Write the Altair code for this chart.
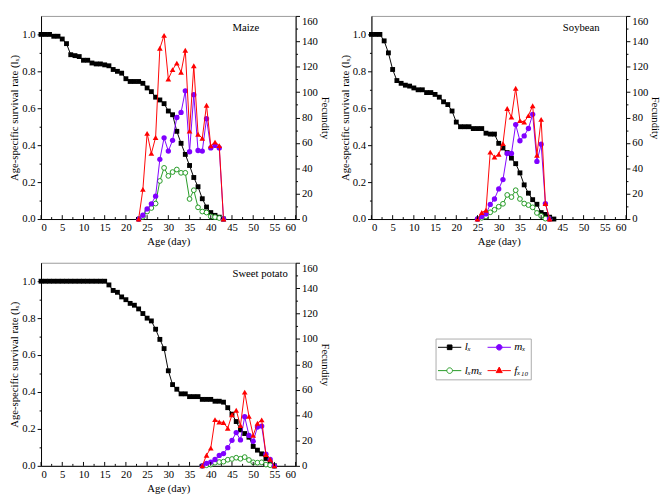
import altair as alt
import pandas as pd

FONT = "Liberation Serif"
BLACK = "#000000"
PURPLE = "#8000ff"
GREEN = "#229922"
RED = "#ff0000"

# ---------------- Maize ----------------
MAIZE_AGE = list(range(0, 44))
MAIZE_LX = [1.0, 1.0, 1.0, 0.99, 0.99, 0.975, 0.95, 0.89, 0.885, 0.88, 0.86,
            0.86, 0.845, 0.84, 0.84, 0.835, 0.83, 0.81, 0.80, 0.79, 0.76,
            0.745, 0.745, 0.745, 0.735, 0.71, 0.69, 0.66, 0.645, 0.625, 0.585,
            0.565, 0.475, 0.41, 0.35, 0.29, 0.225, 0.175, 0.11, 0.065, 0.035,
            0.02, 0.01, 0.0]
MAIZE_REP_AGE = list(range(23, 44))
MAIZE_MX = [0, 3, 8, 12, 18, 47, 64, 53.5, 62, 80, 84, 101, 53, 98, 54, 53.5,
            79, 56, 58, 56, 0]
MAIZE_LXMX = [0, 1.8, 5.9, 8.7, 12.2, 30, 40.3, 34, 37, 39, 36.4, 36.4, 15.8,
              22.7, 9.2, 5.9, 5.1, 2, 1.5, 0.8, 0]
MAIZE_FX10 = [0, 23.4, 67.5, 51.7, 64.2, 134.5, 144.7, 110.3, 117.7, 122.8,
              115.7, 133, 69.3, 120.8, 66.8, 63.7, 89.7, 57.6, 60.6, 57.8, 0]

# ---------------- Soybean ----------------
SOY_AGE = list(range(0, 44))
SOY_LX = [1.0, 1.0, 1.0, 0.965, 0.9, 0.81, 0.75, 0.735, 0.725, 0.72, 0.71,
          0.70, 0.70, 0.685, 0.685, 0.675, 0.66, 0.635, 0.62, 0.585, 0.525,
          0.50, 0.50, 0.50, 0.49, 0.49, 0.49, 0.465, 0.46, 0.46, 0.41, 0.385,
          0.36, 0.33, 0.30, 0.25, 0.185, 0.14, 0.105, 0.08, 0.035, 0.025,
          0.01, 0.0]
SOY_REP_AGE = list(range(25, 43))
SOY_MX = [0, 2, 4, 11.5, 15.8, 23.7, 31.1, 51.7, 51.7, 74.4, 61.7, 65.5, 71.3,
          82.5, 45.4, 58.9, 12.2, 0]
SOY_LXMX = [0, 1, 2, 5.3, 7.3, 9.7, 12, 19, 17.3, 22.7, 15.8, 12.2, 11, 9.2,
            4.8, 2.5, 0.3, 0]
SOY_FX10 = [0, 5.1, 6.9, 52.7, 48.9, 51, 59.4, 87.1, 80.3, 103, 77.5, 76.4,
            81.5, 89.2, 50.2, 78.5, 12.2, 0]

# ---------------- Sweet potato ----------------
SP_AGE = list(range(0, 56))
SP_LX = [1.0] * 16 + [0.98, 0.95, 0.94, 0.915, 0.9, 0.88, 0.87, 0.85, 0.825,
                      0.80, 0.785, 0.74, 0.685, 0.635, 0.515, 0.44, 0.415,
                      0.39, 0.39, 0.375, 0.375, 0.375, 0.36, 0.36, 0.36, 0.35,
                      0.35, 0.345, 0.315, 0.28, 0.24, 0.195, 0.175, 0.155,
                      0.105, 0.085, 0.065, 0.04, 0.015, 0.0]
SP_REP_AGE = list(range(38, 56))
SP_MX = [0, 2, 3, 5, 8.2, 9.7, 14.3, 20.1, 26.2, 20.4, 38.7, 24, 19.4, 30.6,
         31.3, 9.2, 5.1, 0]
SP_LXMX = [0, 0.5, 1, 2.5, 3, 3.3, 4.8, 5.4, 6.4, 5.6, 6.9, 4.6, 2.8, 2.5, 2.8,
           1, 0.5, 0]
SP_FX10 = [0, 8.4, 14, 36.4, 34.6, 34.1, 29.6, 40.3, 43.8, 31.8, 58.1, 39, 24,
           33.6, 36.2, 8.9, 5.1, 0]

# ---------------- Axes / legend ----------------
X_MAJOR = [0, 5, 10, 15, 20, 25, 30, 35, 40, 45, 50, 55, 60]
X_MINOR = [2.5, 7.5, 12.5, 17.5, 22.5, 27.5, 32.5, 37.5, 42.5, 47.5, 52.5, 57.5]
LX_TICKS = [0.0, 0.1, 0.2, 0.3, 0.4, 0.5, 0.6, 0.7, 0.8, 0.9, 1.0]
FEC_TICKS = [0, 10, 20, 30, 40, 50, 60, 70, 80, 90, 100, 110, 120, 130, 140,
             150, 160]
SERIES = ["l\u2093", "m\u2093", "l\u2093m\u2093", "f\u2093\u2081\u2080"]
SERIES_STROKE = [BLACK, PURPLE, GREEN, RED]
SERIES_FILL = [BLACK, PURPLE, "#ffffff", RED]
SERIES_SHAPE = [
    "M-1,0H-0.2M0.2,0H1M-0.2,-0.2H0.2V0.2H-0.2Z",
    "M-1,0H-0.24M0.24,0H1M0.24,0A0.24,0.24 0 1,1 -0.24,0A0.24,0.24 0 1,1 0.24,0Z",
    "M-1,0H-0.24M0.24,0H1M0.24,0A0.24,0.24 0 1,1 -0.24,0A0.24,0.24 0 1,1 0.24,0Z",
    "M-1,0H-0.26M0.26,0H1M0,-0.3L0.26,0.17H-0.26Z",
]

W, H = 262, 209
FS = 11

xenc = alt.X("age:Q", scale=alt.Scale(domain=[0, 60], nice=False, zero=False),
             axis=alt.Axis(values=X_MAJOR, title="Age (day)", ticks=False,
                           labelPadding=3, titlePadding=3, format="d"))

lx_axis = alt.Axis(
    orient="left", values=LX_TICKS, format=".1f",
    labelExpr="round(datum.value*10) % 2 == 0 ? datum.label : ''",
    tickSize={"condition": {"test": "round(datum.value*10) % 2 == 0", "value": 4}, "value": 2},
    title="Age-specific survival rate (l\u2093)", titlePadding=2, labelPadding=2)

fec_axis = alt.Axis(
    orient="right", values=FEC_TICKS, format="d",
    labelExpr="datum.value % 20 == 0 ? datum.label : ''",
    labelBaseline={"condition": {"test": "datum.value == 160", "value": "top"}, "value": "middle"},
    tickSize={"condition": {"test": "datum.value % 20 == 0", "value": 4}, "value": 2},
    title="Fecundity", titlePadding=2, labelPadding=2)


def rseries(df, field, color, pt):
    return alt.Chart(df).mark_line(color=color, strokeWidth=1, point=pt).encode(
        x=xenc,
        y=alt.Y(f"{field}:Q", scale=alt.Scale(domain=[0, 160], nice=False),
                axis=fec_axis))


def panel(name, ages, lx, rep_ages, mx, lxmx, fx, with_legend=False):
    d_lx = pd.DataFrame({"age": ages, "v": lx})
    d_rep = pd.DataFrame({"age": rep_ages, "mx": mx, "lxmx": lxmx, "fx": fx})

    lx_layer = alt.Chart(d_lx).mark_line(
        color=BLACK, strokeWidth=1,
        point=alt.OverlayMarkDef(shape="square", filled=True, color=BLACK, size=25)
    ).encode(x=xenc, y=alt.Y("v:Q", scale=alt.Scale(domain=[0, 1.1], nice=False),
                             axis=lx_axis))

    fec = alt.layer(
        rseries(d_rep, "lxmx", GREEN,
                alt.OverlayMarkDef(shape="circle", filled=True, fill="#ffffff",
                                   stroke=GREEN, strokeWidth=1, size=24)),
        rseries(d_rep, "mx", PURPLE,
                alt.OverlayMarkDef(shape="circle", filled=True, color=PURPLE, size=30)),
        rseries(d_rep, "fx", RED,
                alt.OverlayMarkDef(shape="triangle-up", filled=True, color=RED, size=34)),
    )

    tmaj = alt.Chart(pd.DataFrame({"age": X_MAJOR})).mark_rule(
        color=BLACK, strokeWidth=1).encode(x=xenc, y=alt.value(H), y2=alt.value(H - 4))
    tmin = alt.Chart(pd.DataFrame({"age": X_MINOR})).mark_rule(
        color=BLACK, strokeWidth=1).encode(x=xenc, y=alt.value(H), y2=alt.value(H - 2))

    label = alt.Chart(pd.DataFrame({"t": [name]})).mark_text(
        align="left", baseline="middle", font=FONT, fontSize=FS, color=BLACK
    ).encode(x=alt.value(round(W * 0.752)), y=alt.value(12), text="t:N")

    layers = [lx_layer, fec, tmaj, tmin, label]

    if with_legend:
        leg = alt.Legend(
            title=None, orient="none", legendX=406, legendY=332, columns=2,
            direction="horizontal",
            strokeColor="#aaaaaa", padding=2, symbolSize=576,
            symbolStrokeWidth=1, symbolOpacity=1, clipHeight=14,
            rowPadding=10, columnPadding=4, labelOffset=3, labelFont=FONT,
            labelFontSize=11.5, labelFontStyle="italic", labelColor=BLACK)
        d_leg = pd.DataFrame({"series": SERIES})
        leg_layer = alt.Chart(d_leg).mark_point(opacity=0, filled=True).encode(
            x=alt.value(0), y=alt.value(0),
            stroke=alt.Stroke("series:N", scale=alt.Scale(domain=SERIES, range=SERIES_STROKE), legend=leg),
            fill=alt.Fill("series:N", scale=alt.Scale(domain=SERIES, range=SERIES_FILL), legend=leg),
            shape=alt.Shape("series:N", scale=alt.Scale(domain=SERIES, range=SERIES_SHAPE), legend=leg),
        )
        layers.append(leg_layer)

    return alt.layer(*layers).resolve_scale(y="independent").properties(width=W, height=H)


maize = panel("Maize", MAIZE_AGE, MAIZE_LX, MAIZE_REP_AGE, MAIZE_MX, MAIZE_LXMX, MAIZE_FX10)
soy = panel("Soybean", SOY_AGE, SOY_LX, SOY_REP_AGE, SOY_MX, SOY_LXMX, SOY_FX10)
sweet = panel("Sweet potato", SP_AGE, SP_LX, SP_REP_AGE, SP_MX, SP_LXMX, SP_FX10,
              with_legend=True)

chart = alt.vconcat(
    alt.hconcat(maize, soy, spacing=8), sweet, spacing=14
).properties(
    padding={"left": 0, "top": 0, "right": 0, "bottom": 0}, background="white"
).configure_view(
    stroke="#999999", strokeWidth=1
).configure_axis(
    labelFont=FONT, titleFont=FONT, labelFontSize=FS, titleFontSize=FS,
    titleFontWeight="normal", labelColor=BLACK, titleColor=BLACK,
    domainColor=BLACK, tickColor=BLACK, grid=False, domainWidth=1, tickWidth=1
)

chart.save("out.html", embed_options={"renderer": "svg", "actions": False})
